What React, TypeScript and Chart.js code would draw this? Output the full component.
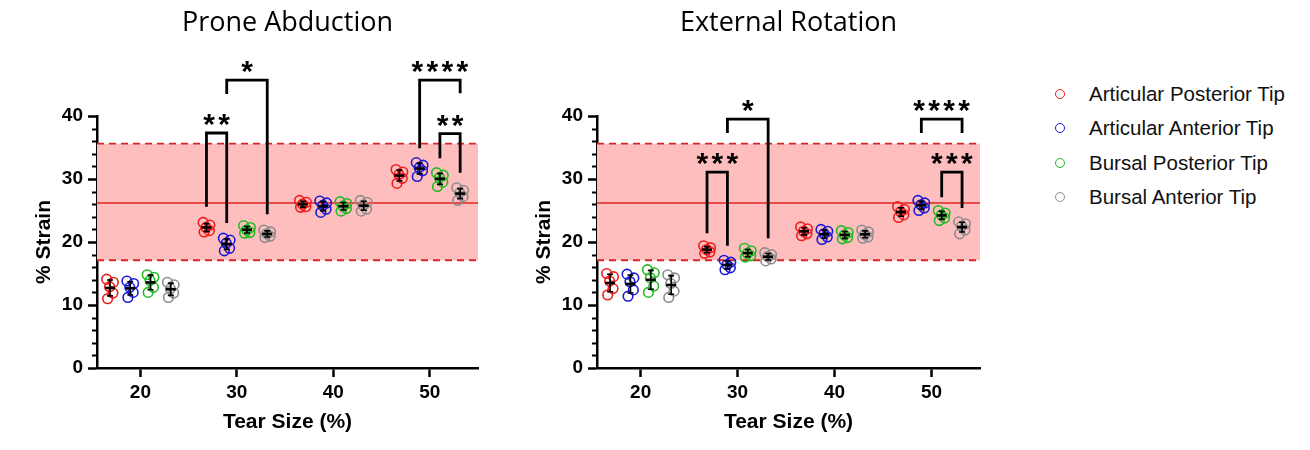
import React, { useEffect, useRef } from 'react';
import { Chart, registerables } from 'chart.js';

Chart.register(...registerables);

const FONT = '"Liberation Sans", Arial, sans-serif';
const TITLE_FONT = '"Open Sans", "Noto Sans", sans-serif';

// Tear sizes (x groups) and the four measurement sites
const tearSizes = [20, 30, 40, 50];
const seriesNames = [
  'Articular Posterior Tip',
  'Articular Anterior Tip',
  'Bursal Posterior Tip',
  'Bursal Anterior Tip',
];
const seriesColors = ['#ee1c1c', '#1a1ad6', '#22b922', '#8c8c8c'];
// Horizontal placement of each site inside a tear-size group (x units)
const seriesOffsets = [-3.15, -1.05, 1.05, 3.15];
// Small horizontal spread of the individual specimens (x units)
const pointJitter = [-0.35, 0.35, -0.05, 0.3, -0.25];

// Intact-tendon reference range (% strain)
const bandLow = 17.1;
const bandMid = 26.2;
const bandHigh = 35.6;

// Prone Abduction: per site, per tear size, specimen strains (%)
const proneArtPost = [
  [14.1, 13.6, 12.9, 11.9, 11.0],
  [23.1, 22.7, 22.3, 21.8, 21.6],
  [26.6, 26.3, 26.0, 25.6, 25.5],
  [31.5, 31.1, 30.7, 30.1, 29.3],
];
const proneArtAnt = [
  [13.8, 13.4, 12.8, 12.0, 11.2],
  [20.6, 20.3, 19.8, 19.0, 18.6],
  [26.5, 26.2, 25.8, 25.2, 24.7],
  [32.6, 32.2, 31.8, 31.3, 30.4],
];
const proneBurPost = [
  [14.8, 14.4, 13.9, 12.8, 12.0],
  [22.6, 22.3, 21.9, 21.5, 21.4],
  [26.4, 26.1, 25.7, 25.3, 24.9],
  [31.0, 30.6, 30.2, 29.5, 28.8],
];
const proneBurAnt = [
  [13.6, 13.2, 12.6, 11.9, 11.2],
  [21.9, 21.6, 21.3, 20.9, 20.7],
  [26.6, 26.3, 25.8, 25.2, 24.9],
  [28.6, 28.2, 27.8, 27.2, 26.6],
];

// External Rotation: per site, per tear size, specimen strains (%)
const extArtPost = [
  [15.0, 14.5, 13.8, 12.6, 11.6],
  [19.4, 19.1, 18.8, 18.4, 18.2],
  [22.4, 22.1, 21.7, 21.3, 21.0],
  [25.6, 25.2, 24.8, 24.3, 23.9],
];
const extArtAnt = [
  [14.9, 14.3, 13.7, 12.4, 11.4],
  [17.1, 16.8, 16.4, 15.9, 15.6],
  [22.0, 21.7, 21.3, 20.8, 20.4],
  [26.6, 26.2, 25.9, 25.4, 25.0],
];
const extBurPost = [
  [15.6, 15.1, 14.3, 13.0, 12.0],
  [19.0, 18.6, 18.2, 17.8, 17.6],
  [21.8, 21.5, 21.1, 20.7, 20.5],
  [25.0, 24.6, 24.3, 23.8, 23.4],
];
const extBurAnt = [
  [14.8, 14.3, 13.4, 12.2, 11.2],
  [18.3, 18.0, 17.7, 17.3, 17.0],
  [21.9, 21.6, 21.2, 20.8, 20.6],
  [23.2, 22.9, 22.5, 21.9, 21.3],
];

type Bracket = {
  tear: number;
  from: number;
  to: number;
  top: number;
  fromEnd: number;
  toEnd: number;
  label: string;
};

// Significance brackets (y values in % strain)
const proneBrackets: Bracket[] = [
  { tear: 30, from: 0, to: 1, top: 37.3, fromEnd: 25.6, toEnd: 23.0, label: '**' },
  { tear: 30, from: 1, to: 3, top: 45.7, fromEnd: 43.5, toEnd: 24.4, label: '*' },
  { tear: 50, from: 1, to: 3, top: 45.7, fromEnd: 34.9, toEnd: 43.6, label: '****' },
  { tear: 50, from: 2, to: 3, top: 37.2, fromEnd: 33.3, toEnd: 31.0, label: '**' },
];
const extBrackets: Bracket[] = [
  { tear: 30, from: 0, to: 1, top: 31.1, fromEnd: 21.4, toEnd: 19.4, label: '***' },
  { tear: 30, from: 1, to: 3, top: 39.5, fromEnd: 37.3, toEnd: 20.6, label: '*' },
  { tear: 50, from: 1, to: 3, top: 39.5, fromEnd: 37.3, toEnd: 37.3, label: '****' },
  { tear: 50, from: 2, to: 3, top: 31.1, fromEnd: 27.1, toEnd: 25.4, label: '***' },
];

const mean = (a: number[]) => a.reduce((s, v) => s + v, 0) / a.length;
const sd = (a: number[]) => {
  const m = mean(a);
  return Math.sqrt(a.reduce((s, v) => s + (v - m) * (v - m), 0) / (a.length - 1));
};

function makeConfig(title: string, series: number[][][], brackets: Bracket[], padRight: number): any {
  const datasets = series.map((groups, s) => ({
    label: seriesNames[s],
    data: groups.flatMap((vals, g) =>
      vals.map((v, k) => ({ x: tearSizes[g] + seriesOffsets[s] + pointJitter[k], y: v }))
    ),
    showLine: false,
    pointStyle: 'circle',
    pointRadius: 4.8,
    pointBorderWidth: 1.6,
    borderColor: seriesColors[s],
    backgroundColor: 'rgba(0,0,0,0)',
    pointBackgroundColor: 'rgba(0,0,0,0)',
  }));

  const bandPlugin = {
    id: 'band',
    beforeDatasetsDraw(chart: any) {
      const { ctx, chartArea: a, scales } = chart;
      const y = scales.y;
      const yl = y.getPixelForValue(bandLow);
      const yh = y.getPixelForValue(bandHigh);
      const ym = y.getPixelForValue(bandMid);
      ctx.save();
      ctx.fillStyle = '#ffbebe';
      ctx.fillRect(a.left, yh, a.right - a.left, yl - yh);
      ctx.strokeStyle = '#e02424';
      ctx.lineWidth = 1.8;
      ctx.setLineDash([7, 5]);
      ctx.beginPath();
      ctx.moveTo(a.left, yh);
      ctx.lineTo(a.right, yh);
      ctx.moveTo(a.left, yl);
      ctx.lineTo(a.right, yl);
      ctx.stroke();
      ctx.setLineDash([]);
      ctx.lineWidth = 1.6;
      ctx.beginPath();
      ctx.moveTo(a.left, ym);
      ctx.lineTo(a.right, ym);
      ctx.stroke();
      ctx.restore();
    },
  };

  const overlayPlugin = {
    id: 'overlay',
    afterDatasetsDraw(chart: any) {
      const { ctx, scales } = chart;
      const xs = scales.x;
      const ys = scales.y;
      ctx.save();
      ctx.strokeStyle = '#000';
      // mean ± SD bars
      series.forEach((groups, s) => {
        groups.forEach((vals, g) => {
          const m = mean(vals);
          const d = sd(vals);
          const px = xs.getPixelForValue(tearSizes[g] + seriesOffsets[s]);
          const pm = ys.getPixelForValue(m);
          const pt = ys.getPixelForValue(m + d);
          const pb = ys.getPixelForValue(m - d);
          ctx.lineWidth = 1.6;
          ctx.beginPath();
          ctx.moveTo(px, pt);
          ctx.lineTo(px, pb);
          ctx.moveTo(px - 3, pt);
          ctx.lineTo(px + 3, pt);
          ctx.moveTo(px - 3, pb);
          ctx.lineTo(px + 3, pb);
          ctx.stroke();
          ctx.lineWidth = 2.6;
          ctx.beginPath();
          ctx.moveTo(px - 5, pm);
          ctx.lineTo(px + 5, pm);
          ctx.stroke();
        });
      });
      ctx.restore();
    },
    afterDraw(chart: any) {
      const { ctx, scales, chartArea } = chart;
      const xs = scales.x;
      const ys = scales.y;
      ctx.save();
      // minor y ticks
      ctx.strokeStyle = '#000';
      ctx.lineWidth = 2;
      for (let v = 0; v <= 40; v += 2) {
        if (v % 10 === 0) continue;
        const py = Math.round(ys.getPixelForValue(v)) + 0.5;
        ctx.beginPath();
        ctx.moveTo(chartArea.left - 5, py);
        ctx.lineTo(chartArea.left, py);
        ctx.stroke();
      }
      // significance brackets
      ctx.lineWidth = 2.8;
      ctx.lineJoin = 'miter';
      ctx.fillStyle = '#000';
      ctx.font = `bold 30px ${FONT}`;
      ctx.textAlign = 'center';
      ctx.textBaseline = 'alphabetic';
      brackets.forEach((b) => {
        const x1 = xs.getPixelForValue(b.tear + seriesOffsets[b.from]);
        const x2 = xs.getPixelForValue(b.tear + seriesOffsets[b.to]);
        const yt = ys.getPixelForValue(b.top);
        ctx.beginPath();
        ctx.moveTo(x1, ys.getPixelForValue(b.fromEnd));
        ctx.lineTo(x1, yt);
        ctx.lineTo(x2, yt);
        ctx.lineTo(x2, ys.getPixelForValue(b.toEnd));
        ctx.stroke();
        const n = b.label.length;
        const step = 15;
        const cx = (x1 + x2) / 2;
        for (let i = 0; i < n; i++) {
          ctx.fillText('*', cx + (i - (n - 1) / 2) * step, yt + 1);
        }
      });
      ctx.restore();
    },
  };

  return {
    type: 'scatter',
    data: { datasets },
    plugins: [bandPlugin, overlayPlugin],
    options: {
      responsive: false,
      animation: false,
      devicePixelRatio: 1,
      layout: { padding: { left: 0, right: padRight, top: 0, bottom: 0 } },
      plugins: {
        legend: { display: false },
        tooltip: { enabled: false },
        title: {
          display: true,
          text: title,
          fullSize: false,
          color: '#000',
          font: { family: TITLE_FONT, size: 27, weight: 'normal', lineHeight: 1.2 },
          padding: { top: 7, bottom: 76.6 },
        },
      },
      scales: {
        x: {
          type: 'linear',
          min: 15.5,
          max: 55,
          afterBuildTicks: (s: any) => {
            s.ticks = tearSizes.map((v) => ({ value: v }));
          },
          afterFit: (s: any) => {
            s.height = 82;
          },
          grid: {
            display: true,
            drawOnChartArea: false,
            drawTicks: true,
            tickLength: 9,
            tickWidth: 2.5,
            tickColor: '#000',
          },
          border: { display: true, color: '#000', width: 2.5 },
          ticks: {
            autoSkip: false,
            maxRotation: 0,
            color: '#000',
            padding: 4,
            font: { family: FONT, size: 19, weight: 'bold' },
          },
          title: {
            display: true,
            text: 'Tear Size (%)',
            color: '#000',
            font: { family: FONT, size: 21, weight: 'bold', lineHeight: 1.2 },
            padding: { top: 4, bottom: 15 },
          },
        },
        y: {
          type: 'linear',
          min: 0,
          max: 40,
          afterFit: (s: any) => {
            s.width = 97;
          },
          grid: {
            display: true,
            drawOnChartArea: false,
            drawTicks: true,
            tickLength: 9,
            tickWidth: 2.5,
            tickColor: (c: any) => (c.tick && c.tick.value % 10 === 0 ? '#000' : 'rgba(0,0,0,0)'),
          },
          border: { display: true, color: '#000', width: 2.5 },
          ticks: {
            stepSize: 2,
            autoSkip: false,
            color: '#000',
            padding: 5,
            font: { family: FONT, size: 19, weight: 'bold' },
            callback: (v: any) => (Number(v) % 10 === 0 ? String(v) : ''),
          },
          title: {
            display: true,
            text: '% Strain',
            color: '#000',
            font: { family: FONT, size: 21, weight: 'bold', lineHeight: 1.2 },
            padding: { top: 32, bottom: 4 },
          },
        },
      },
    },
  };
}

function Panel(props: { title: string; series: number[][][]; brackets: Bracket[]; left: number; padRight: number }) {
  const ref = useRef<HTMLCanvasElement>(null);
  useEffect(() => {
    if (!ref.current) return;
    const chart = new Chart(ref.current, makeConfig(props.title, props.series, props.brackets, props.padRight));
    return () => chart.destroy();
  }, []);
  return (
    <div style={{ position: 'absolute', left: props.left, top: 0, width: 505, height: 450 }}>
      <canvas ref={ref} width={505} height={450} style={{ display: 'block' }} />
    </div>
  );
}

function Legend() {
  return (
    <div style={{ position: 'absolute', left: 0, top: 0 }}>
      {seriesNames.map((name, i) => (
        <div
          key={name}
          style={{
            position: 'absolute',
            left: 1055,
            top: 94 + i * 34.3 - 12,
            height: 24,
            display: 'flex',
            alignItems: 'center',
            whiteSpace: 'nowrap',
          }}
        >
          <span
            style={{
              display: 'inline-block',
              width: 10,
              height: 10,
              borderRadius: '50%',
              border: `1.6px solid ${seriesColors[i]}`,
              boxSizing: 'border-box',
            }}
          />
          <span style={{ marginLeft: 24, fontFamily: FONT, fontSize: 20.5, color: '#111' }}>{name}</span>
        </div>
      ))}
    </div>
  );
}

export default function App() {
  return (
    <div
      style={{
        position: 'fixed',
        left: 0,
        top: 0,
        width: 1310,
        height: 450,
        background: '#fff',
        overflow: 'hidden',
      }}
    >
      <Panel
        title="Prone Abduction"
        series={[proneArtPost, proneArtAnt, proneBurPost, proneBurAnt]}
        brackets={proneBrackets}
        left={0}
        padRight={27}
      />
      <Panel
        title="External Rotation"
        series={[extArtPost, extArtAnt, extBurPost, extBurAnt]}
        brackets={extBrackets}
        left={500}
        padRight={25}
      />
      <Legend />
    </div>
  );
}
